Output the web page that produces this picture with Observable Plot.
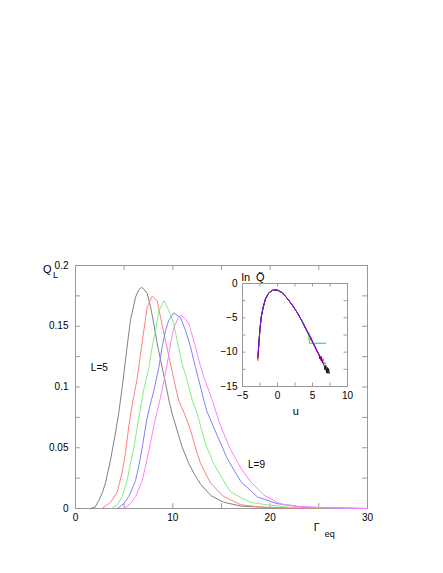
<!DOCTYPE html>
<html><head><meta charset="utf-8">
<script src="https://cdn.jsdelivr.net/npm/d3@7"></script>
<script src="https://cdn.jsdelivr.net/npm/@observablehq/plot@0.6"></script>
<style>
body{margin:0;background:#fff}
#wrap{position:relative;width:443px;height:573px;font-family:"Liberation Sans",Arial,sans-serif}
#wrap svg{position:absolute;overflow:visible}
</style>
</head><body><div id="wrap"></div>
<script>
// ---- main chart data: Q_L vs Gamma_eq, one histogram per L ----
const sizes = ["L=5","L=6","L=7","L=8","L=9"];
const colorsMain = ["#808080","#ff8080","#80f080","#8080ff","#ff80ff"];
const colorsInset = ["#000000","#ff0000","#00e000","#0000ff","#e000e0"];

const g5 = [1.5,2.0,2.4,2.8,3.08,3.6,4.1,4.45,4.8,5.0,5.3,5.65,6.17,6.5,6.78,7.1,7.37,7.71,8.05,8.4,8.9,9.25,9.6,9.93,10.6,10.96,11.65,12.2,12.85,13.9,15.2,17,20.4,25,30];
const q5 = [0,0.001,0.0066,0.014,0.021,0.04,0.062,0.079,0.1,0.113,0.133,0.155,0.174,0.18,0.182,0.18,0.177,0.166,0.152,0.1355,0.116,0.103,0.089,0.078,0.06,0.0505,0.0368,0.0285,0.02,0.0107,0.0052,0.002,0.0005,0.0001,0];

const g6 = [2.7,3.25,3.6,4.28,4.8,5.14,5.48,5.82,6.0,6.34,6.68,7.02,7.37,7.88,8.4,8.74,9.25,9.76,10.28,10.6,11.2,11.8,12.4,12.85,13.87,15.2,17,19,22,30];
const q6 = [0,0.003,0.005,0.0134,0.03,0.046,0.068,0.085,0.093,0.107,0.127,0.1465,0.166,0.1747,0.171,0.157,0.138,0.119,0.1,0.089,0.078,0.065,0.048,0.037,0.021,0.01,0.003,0.0012,0.0003,0];

const g7 = [3.7,4.3,4.8,5.3,5.6,6.0,6.5,6.85,7.02,7.54,7.88,8.22,8.56,8.9,9.08,9.59,10.1,10.45,10.96,11.48,12.0,12.5,12.85,13.36,14.2,14.9,15.9,17,18,19.7,22,30];
const q7 = [0,0.003,0.01,0.023,0.035,0.05,0.075,0.09,0.098,0.116,0.133,0.1465,0.163,0.168,0.171,0.163,0.152,0.138,0.119,0.105,0.089,0.078,0.068,0.053,0.037,0.027,0.014,0.009,0.005,0.003,0.001,0];

const g8 = [4.3,4.96,5.5,6.17,6.5,6.85,7.3,7.6,8.05,8.56,8.9,9.25,9.59,10.1,10.8,11.3,11.82,12.33,12.85,13.19,13.5,14.56,15.6,17,18.7,20.7,23,26,30];
const q8 = [0,0.004,0.01,0.023,0.035,0.05,0.072,0.083,0.097,0.116,0.133,0.1465,0.155,0.161,0.157,0.1465,0.133,0.116,0.1,0.089,0.08,0.06,0.041,0.022,0.0095,0.004,0.0015,0.0004,0];

const g9 = [5.0,5.65,6.2,6.85,7.2,7.6,8.1,8.4,8.74,9.08,9.42,9.76,10.1,10.5,10.8,11.2,11.65,12.16,12.67,13.19,13.7,14.05,14.9,15.9,17,18,19.35,21,23,26,30];
const q9 = [0,0.004,0.01,0.023,0.035,0.05,0.07,0.08,0.0916,0.105,0.119,0.1355,0.149,0.156,0.159,0.157,0.152,0.138,0.122,0.108,0.097,0.089,0.068,0.049,0.033,0.022,0.011,0.004,0.0015,0.0005,0];

const xTicks = [0,5,10,15,20,25,30];
const xLabels = [0,10,20,30];
const yTicks = [0,0.025,0.05,0.075,0.1,0.125,0.15,0.175,0.2];
const yLabels = [0,0.05,0.1,0.15,0.2];

// ---- inset data: ln Q~ vs u ----
const u5 = [-2.8,-2.66,-2.52,-2.32,-2.03,-1.7,-1.23,-0.6,0,0.7,1.4,2.12,2.84,3.55,4.27,5.0,5.7,6.0,6.17,6.4,6.65,6.8,6.9,7.0,7.1,7.2,7.3,7.4];
const l5 = [-10.9,-8.7,-6.8,-4.85,-3.4,-2.18,-1.36,-0.92,-0.97,-1.36,-2.18,-3.15,-4.27,-5.58,-7.03,-8.49,-9.94,-10.5,-10.9,-11.3,-11.9,-12.6,-11.9,-13.0,-12.2,-13.1,-12.4,-13.1];
const u6 = [-2.8,-2.66,-2.52,-2.32,-2.03,-1.7,-1.23,-0.6,0,0.7,1.4,2.12,2.84,3.55,4.27,5.0,5.7,6.0,6.17,6.3,6.5,6.9];
const l6 = [-11.2,-8.7,-6.8,-4.85,-3.4,-2.18,-1.36,-0.92,-0.97,-1.36,-2.18,-3.15,-4.27,-5.58,-7.03,-8.49,-9.94,-10.4,-11.2,-10.7,-11.6,-11.6];
const u7 = [-2.75,-2.66,-2.52,-2.32,-2.03,-1.7,-1.23,-0.6,0,0.7,1.4,2.12,2.84,3.55,4.27,4.5,4.55,6.9];
const l7 = [-8.4,-8.4,-6.8,-4.85,-3.4,-2.18,-1.36,-0.92,-0.97,-1.36,-2.18,-3.15,-4.27,-5.58,-7.03,-7.6,-8.7,-8.7];
const u8 = [-2.8,-2.66,-2.52,-2.32,-2.03,-1.7,-1.23,-0.6,0,0.7,1.4,2.12,2.84,3.55,4.27,5.0,5.7,5.9,6.05,6.2,6.4,6.55];
const l8 = [-10.6,-8.7,-6.8,-4.85,-3.4,-2.18,-1.36,-0.92,-0.97,-1.36,-2.18,-3.15,-4.27,-5.58,-7.03,-8.49,-9.94,-10.3,-11.0,-10.6,-11.5,-11.1];
const u9 = [-2.8,-2.66,-2.52,-2.32,-2.03,-1.7,-1.23,-0.6,0,0.7,1.4,2.12,2.84,3.55,4.27,4.6,4.7,4.8,5.0,5.3,5.5,5.7,6.0,6.2];
const l9 = [-10.8,-8.7,-6.8,-4.85,-3.4,-2.18,-1.36,-0.92,-0.97,-1.36,-2.18,-3.15,-4.27,-5.58,-7.03,-7.4,-8.2,-7.8,-8.49,-9.1,-9.6,-9.94,-10.6,-10.9];

const uTicks = [-5,-2.5,0,2.5,5,7.5,10];
const uLabels = [-5,0,5,10];
const lnTicks = [-15,-12.5,-10,-7.5,-5,-2.5,0];
const lnLabels = [-15,-10,-5,0];

const zip = (xs, ys) => xs.map((x, i) => ({x, y: ys[i]}));
const mainSeries = [[g5,q5],[g6,q6],[g7,q7],[g8,q8],[g9,q9]];
const insetSeries = [[u5,l5],[u6,l6],[u7,l7],[u8,l8],[u9,l9]];

const font = '"Liberation Sans", Arial, sans-serif';
const frameColor = "#999";

const main = Plot.plot({
  width: 443, height: 573,
  marginLeft: 75, marginRight: 76, marginTop: 265, marginBottom: 65,
  style: {fontFamily: font, fontSize: "10px", background: "transparent", color: "#000"},
  x: {domain: [0, 30]},
  y: {domain: [0, 0.2]},
  marks: [
    Plot.frame({stroke: frameColor}),
    Plot.ruleX(xTicks, {x: d => d, y1: 0, y2: 0.004, stroke: frameColor}),
    Plot.ruleX(xTicks, {x: d => d, y1: 0.196, y2: 0.2, stroke: frameColor}),
    Plot.ruleY(yTicks, {y: d => d, x1: 0, x2: 0.5, stroke: frameColor}),
    Plot.ruleY(yTicks, {y: d => d, x1: 29.5, x2: 30, stroke: frameColor}),
    Plot.axisX(xLabels, {tickSize: 0, tickPadding: 5, label: null, tickFormat: d => String(d)}),
    Plot.axisY(yLabels, {tickSize: 0, tickPadding: 7, label: null, tickFormat: d => String(d)}),
    ...mainSeries.map(([xs, ys], i) =>
      Plot.line(zip(xs, ys), {x: "x", y: "y", stroke: colorsMain[i], strokeWidth: 1})),
    Plot.text([sizes[0]], {x: 2.45, y: 0.116, text: d => d, fontSize: 10}),
    Plot.text([sizes[4]], {x: 18.6, y: 0.036, text: d => d, fontSize: 10}),
    Plot.text(["Γ"], {x: 24.8, y: -0.0155, text: d => d, fontSize: 11}),
    Plot.text(["eq"], {x: 25.6, y: -0.021, text: d => d, fontSize: 9, textAnchor: "start"}),
    Plot.text(["Q"], {x: -2.9, y: 0.2, text: d => d, fontSize: 11, dy: 4}),
    Plot.text(["L"], {x: -2.3, y: 0.2, text: d => d, fontSize: 9, dy: 10, textAnchor: "start"})
  ]
});
main.style.left = "0px"; main.style.top = "0px";

const inset = Plot.plot({
  width: 160, height: 160,
  marginLeft: 42, marginRight: 13, marginTop: 18, marginBottom: 39,
  style: {fontFamily: font, fontSize: "10px", background: "transparent", color: "#000"},
  x: {domain: [-5, 10]},
  y: {domain: [-15, 0]},
  marks: [
    Plot.frame({stroke: frameColor}),
    Plot.ruleX(uTicks, {x: d => d, y1: -15, y2: -14.5, stroke: frameColor}),
    Plot.ruleX(uTicks, {x: d => d, y1: -0.5, y2: 0, stroke: frameColor}),
    Plot.ruleY(lnTicks, {y: d => d, x1: -5, x2: -4.5, stroke: frameColor}),
    Plot.ruleY(lnTicks, {y: d => d, x1: 9.5, x2: 10, stroke: frameColor}),
    Plot.axisX(uLabels, {tickSize: 0, tickPadding: 5, label: null}),
    Plot.axisY(lnLabels, {tickSize: 0, tickPadding: 5, label: null}),
    ...insetSeries.map(([xs, ys], i) =>
      Plot.line(zip(xs, ys), {x: "x", y: "y", stroke: colorsInset[i], strokeWidth: 0.9, strokeOpacity: i === 4 ? 0.75 : 1})),
    Plot.text(["u"], {x: 2.6, y: -18.6, text: d => d, fontSize: 11}),
    Plot.text(["ln  Q\u0303"], {x: -5.15, y: 0.3, text: d => d, fontSize: 11, textAnchor: "start", lineAnchor: "bottom"})
  ]
});
inset.style.left = "200px"; inset.style.top = "265px";

const wrap = document.getElementById("wrap");
wrap.appendChild(main);
wrap.appendChild(inset);
</script>
</body></html>
